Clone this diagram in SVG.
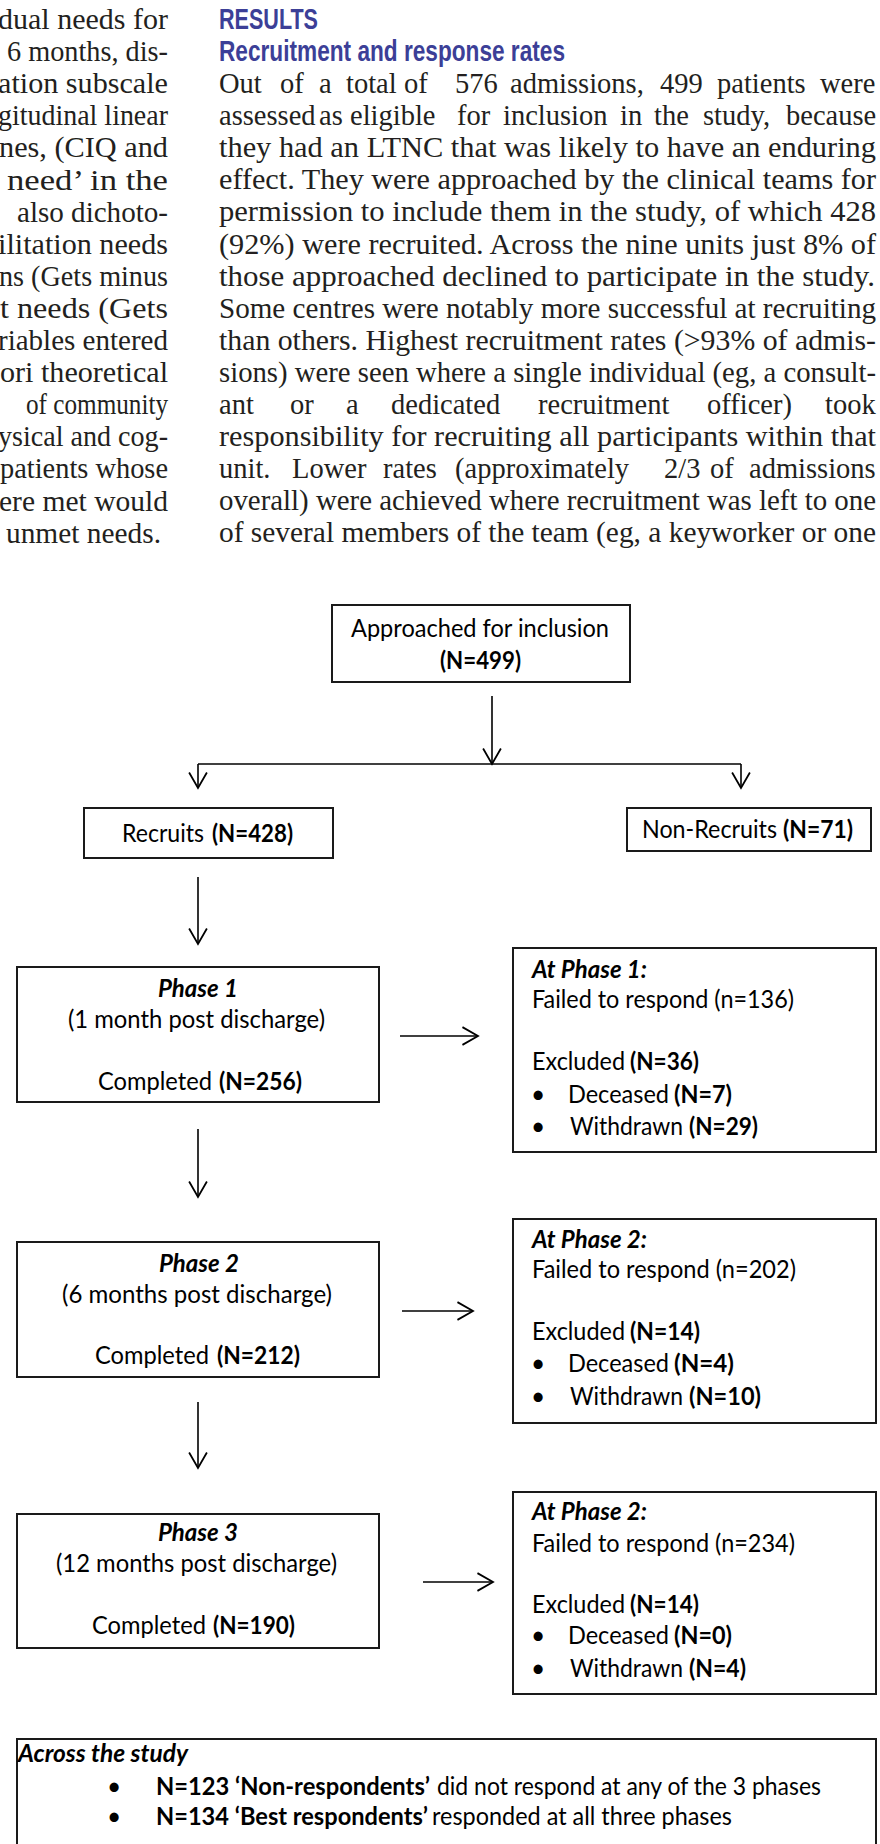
<svg xmlns="http://www.w3.org/2000/svg" width="880" height="1844" viewBox="0 0 880 1844">
<defs>
<style>
.body{font-family:"Liberation Serif","Times New Roman",serif;font-size:28.5px;fill:#231f20}
.head{font-family:"Liberation Sans",Arial,sans-serif;font-weight:bold;font-size:30px;fill:#3c3f97}
.d{font-family:Lato,"Open Sans",sans-serif;font-size:24.5px;fill:#000}
.b{font-weight:bold}
.bi{font-weight:bold;font-style:italic}
.box{fill:#fff;stroke:#1a1a1a;stroke-width:2}
.conn line{stroke:#000;stroke-width:1.6;fill:none}
</style>
<marker id="ah" markerUnits="userSpaceOnUse" markerWidth="20" markerHeight="20" refX="15" refY="9" orient="auto" viewBox="0 0 16 18">
<path d="M1,1 L15,9 L1,17" fill="none" stroke="#000" stroke-width="1.6"/>
</marker>
</defs>
<rect width="880" height="1844" fill="#fff"/>

<g id="left-column" class="body">
<text x="-2" y="29" textLength="170" lengthAdjust="spacingAndGlyphs">dual needs for</text>
<text x="7" y="61.1" textLength="161" lengthAdjust="spacingAndGlyphs">6 months, dis-</text>
<text x="-2" y="93.2" textLength="170" lengthAdjust="spacingAndGlyphs">ation subscale</text>
<text x="-2" y="125.3" textLength="170" lengthAdjust="spacingAndGlyphs">gitudinal linear</text>
<text x="-1" y="157.4" textLength="169" lengthAdjust="spacingAndGlyphs">nes, (CIQ and</text>
<text x="7" y="189.5" textLength="161" lengthAdjust="spacingAndGlyphs">need’ in the</text>
<text x="17" y="221.6" textLength="151" lengthAdjust="spacingAndGlyphs">also dichoto-</text>
<text x="-2" y="253.7" textLength="170" lengthAdjust="spacingAndGlyphs">ilitation needs</text>
<text x="-1" y="285.8" textLength="169" lengthAdjust="spacingAndGlyphs">ns (Gets minus</text>
<text x="0" y="317.9" textLength="168" lengthAdjust="spacingAndGlyphs">t needs (Gets</text>
<text x="-2" y="350" textLength="170" lengthAdjust="spacingAndGlyphs">riables entered</text>
<text x="0" y="382.1" textLength="168" lengthAdjust="spacingAndGlyphs">ori theoretical</text>
<text x="26" y="414.2" textLength="142" lengthAdjust="spacingAndGlyphs">of community</text>
<text x="-2" y="446.3" textLength="170" lengthAdjust="spacingAndGlyphs">ysical and cog-</text>
<text x="0" y="478.4" textLength="168" lengthAdjust="spacingAndGlyphs">patients whose</text>
<text x="-1" y="510.5" textLength="169" lengthAdjust="spacingAndGlyphs">ere met would</text>
<text x="6" y="542.6" textLength="155" lengthAdjust="spacingAndGlyphs">unmet needs.</text>
</g>

<g id="right-column">
<text class="head" x="219" y="29" textLength="99" lengthAdjust="spacingAndGlyphs">RESULTS</text>
<text class="head" x="219" y="61" textLength="346" lengthAdjust="spacingAndGlyphs">Recruitment and response rates</text>
<g class="body">
<text y="93"><tspan x="219">Out</tspan><tspan x="280">of</tspan><tspan x="319">a</tspan><tspan x="346">total</tspan><tspan x="404">of</tspan><tspan x="455">576</tspan><tspan x="510">admissions,</tspan><tspan x="660">499</tspan><tspan x="717">patients</tspan><tspan x="820">were</tspan></text>
<text y="125.1"><tspan x="219">assessed</tspan><tspan x="319">as</tspan><tspan x="350">eligible</tspan><tspan x="457">for</tspan><tspan x="503">inclusion</tspan><tspan x="620">in</tspan><tspan x="654">the</tspan><tspan x="703">study,</tspan><tspan x="786">because</tspan></text>
<text x="219" y="157.2" textLength="657" lengthAdjust="spacingAndGlyphs">they had an LTNC that was likely to have an enduring</text>
<text x="219" y="189.3" textLength="657" lengthAdjust="spacingAndGlyphs">effect. They were approached by the clinical teams for</text>
<text x="219" y="221.4" textLength="657" lengthAdjust="spacingAndGlyphs">permission to include them in the study, of which 428</text>
<text x="219" y="253.5" textLength="657" lengthAdjust="spacingAndGlyphs">(92%) were recruited. Across the nine units just 8% of</text>
<text x="219" y="285.6" textLength="656" lengthAdjust="spacingAndGlyphs">those approached declined to participate in the study.</text>
<text x="219" y="317.7" textLength="657" lengthAdjust="spacingAndGlyphs">Some centres were notably more successful at recruiting</text>
<text x="219" y="349.8" textLength="657" lengthAdjust="spacingAndGlyphs">than others. Highest recruitment rates (&gt;93% of admis-</text>
<text x="219" y="381.9" textLength="657" lengthAdjust="spacingAndGlyphs">sions) were seen where a single individual (eg, a consult-</text>
<text y="414"><tspan x="219">ant</tspan><tspan x="290">or</tspan><tspan x="346">a</tspan><tspan x="391">dedicated</tspan><tspan x="538">recruitment</tspan><tspan x="707">officer)</tspan><tspan x="825">took</tspan></text>
<text x="219" y="446.1" textLength="657" lengthAdjust="spacingAndGlyphs">responsibility for recruiting all participants within that</text>
<text y="478.2"><tspan x="219">unit.</tspan><tspan x="292">Lower</tspan><tspan x="383">rates</tspan><tspan x="455">(approximately</tspan><tspan x="664">2/3</tspan><tspan x="710">of</tspan><tspan x="749">admissions</tspan></text>
<text x="219" y="510.3" textLength="657" lengthAdjust="spacingAndGlyphs">overall) were achieved where recruitment was left to one</text>
<text x="219" y="542.4" textLength="657" lengthAdjust="spacingAndGlyphs">of several members of the team (eg, a keyworker or one</text>
</g>
</g>

<g id="connectors" class="conn">
<line x1="492" y1="696" x2="492" y2="764" marker-end="url(#ah)"/>
<line x1="198" y1="764" x2="741" y2="764"/>
<line x1="198" y1="764" x2="198" y2="788" marker-end="url(#ah)"/>
<line x1="741" y1="764" x2="741" y2="788" marker-end="url(#ah)"/>
<line x1="198" y1="877" x2="198" y2="944" marker-end="url(#ah)"/>
<line x1="198" y1="1129" x2="198" y2="1197" marker-end="url(#ah)"/>
<line x1="198" y1="1402" x2="198" y2="1468" marker-end="url(#ah)"/>
<line x1="400" y1="1036" x2="478" y2="1036" marker-end="url(#ah)"/>
<line x1="402" y1="1311" x2="473" y2="1311" marker-end="url(#ah)"/>
<line x1="423" y1="1582" x2="493" y2="1582" marker-end="url(#ah)"/>
</g>

<g id="approached">
<rect class="box" x="332" y="605" width="298" height="77"/>
<text class="d" x="351" y="637" textLength="258" lengthAdjust="spacingAndGlyphs">Approached for inclusion</text>
<text class="d b" x="440" y="669" textLength="81" lengthAdjust="spacingAndGlyphs">(N=499)</text>
</g>

<g id="recruits">
<rect class="box" x="84" y="808" width="249" height="50"/>
<text class="d" x="122" y="842" textLength="82" lengthAdjust="spacingAndGlyphs">Recruits</text>
<text class="d b" x="212" y="842" textLength="81" lengthAdjust="spacingAndGlyphs">(N=428)</text>
</g>

<g id="non-recruits">
<rect class="box" x="627" y="808" width="244" height="43"/>
<text class="d" x="642" y="838" textLength="135" lengthAdjust="spacingAndGlyphs">Non-Recruits</text>
<text class="d b" x="783" y="838" textLength="70" lengthAdjust="spacingAndGlyphs">(N=71)</text>
</g>

<g id="phase1">
<rect class="box" x="17" y="967" width="362" height="135"/>
<text class="d bi" x="158" y="997" textLength="80" lengthAdjust="spacingAndGlyphs">Phase 1</text>
<text class="d" x="68" y="1028" textLength="257" lengthAdjust="spacingAndGlyphs">(1 month post discharge)</text>
<text class="d" x="98" y="1090" textLength="114" lengthAdjust="spacingAndGlyphs">Completed</text>
<text class="d b" x="219" y="1090" textLength="83" lengthAdjust="spacingAndGlyphs">(N=256)</text>
</g>

<g id="at-phase1">
<rect class="box" x="513" y="948" width="363" height="204"/>
<text class="d bi" x="532" y="978" textLength="115" lengthAdjust="spacingAndGlyphs">At Phase 1:</text>
<text class="d" x="532" y="1008" textLength="262" lengthAdjust="spacingAndGlyphs">Failed to respond (n=136)</text>
<text class="d" x="532" y="1070" textLength="93" lengthAdjust="spacingAndGlyphs">Excluded</text>
<text class="d b" x="630" y="1070" textLength="69" lengthAdjust="spacingAndGlyphs">(N=36)</text>
<text class="d" x="531" y="1103">•</text>
<text class="d" x="568" y="1103" textLength="101" lengthAdjust="spacingAndGlyphs">Deceased</text>
<text class="d b" x="674" y="1103" textLength="58" lengthAdjust="spacingAndGlyphs">(N=7)</text>
<text class="d" x="531" y="1135">•</text>
<text class="d" x="570" y="1135" textLength="113" lengthAdjust="spacingAndGlyphs">Withdrawn</text>
<text class="d b" x="689" y="1135" textLength="69" lengthAdjust="spacingAndGlyphs">(N=29)</text>
</g>

<g id="phase2">
<rect class="box" x="17" y="1242" width="362" height="135"/>
<text class="d bi" x="159" y="1272" textLength="80" lengthAdjust="spacingAndGlyphs">Phase 2</text>
<text class="d" x="62" y="1303" textLength="270" lengthAdjust="spacingAndGlyphs">(6 months post discharge)</text>
<text class="d" x="95" y="1364" textLength="114" lengthAdjust="spacingAndGlyphs">Completed</text>
<text class="d b" x="217" y="1364" textLength="83" lengthAdjust="spacingAndGlyphs">(N=212)</text>
</g>

<g id="at-phase2">
<rect class="box" x="513" y="1219" width="363" height="204"/>
<text class="d bi" x="532" y="1248" textLength="115" lengthAdjust="spacingAndGlyphs">At Phase 2:</text>
<text class="d" x="532" y="1278" textLength="264" lengthAdjust="spacingAndGlyphs">Failed to respond (n=202)</text>
<text class="d" x="532" y="1340" textLength="93" lengthAdjust="spacingAndGlyphs">Excluded</text>
<text class="d b" x="630" y="1340" textLength="70" lengthAdjust="spacingAndGlyphs">(N=14)</text>
<text class="d" x="531" y="1372">•</text>
<text class="d" x="568" y="1372" textLength="101" lengthAdjust="spacingAndGlyphs">Deceased</text>
<text class="d b" x="674" y="1372" textLength="60" lengthAdjust="spacingAndGlyphs">(N=4)</text>
<text class="d" x="531" y="1405">•</text>
<text class="d" x="570" y="1405" textLength="113" lengthAdjust="spacingAndGlyphs">Withdrawn</text>
<text class="d b" x="689" y="1405" textLength="72" lengthAdjust="spacingAndGlyphs">(N=10)</text>
</g>

<g id="phase3">
<rect class="box" x="17" y="1514" width="362" height="134"/>
<text class="d bi" x="158" y="1541" textLength="80" lengthAdjust="spacingAndGlyphs">Phase 3</text>
<text class="d" x="56" y="1572" textLength="281" lengthAdjust="spacingAndGlyphs">(12 months post discharge)</text>
<text class="d" x="92" y="1634" textLength="114" lengthAdjust="spacingAndGlyphs">Completed</text>
<text class="d b" x="213" y="1634" textLength="82" lengthAdjust="spacingAndGlyphs">(N=190)</text>
</g>

<g id="at-phase3">
<rect class="box" x="513" y="1492" width="363" height="202"/>
<text class="d bi" x="532" y="1520" textLength="115" lengthAdjust="spacingAndGlyphs">At Phase 2:</text>
<text class="d" x="532" y="1552" textLength="263" lengthAdjust="spacingAndGlyphs">Failed to respond (n=234)</text>
<text class="d" x="532" y="1613" textLength="93" lengthAdjust="spacingAndGlyphs">Excluded</text>
<text class="d b" x="630" y="1613" textLength="69" lengthAdjust="spacingAndGlyphs">(N=14)</text>
<text class="d" x="531" y="1644">•</text>
<text class="d" x="568" y="1644" textLength="101" lengthAdjust="spacingAndGlyphs">Deceased</text>
<text class="d b" x="674" y="1644" textLength="58" lengthAdjust="spacingAndGlyphs">(N=0)</text>
<text class="d" x="531" y="1677">•</text>
<text class="d" x="570" y="1677" textLength="113" lengthAdjust="spacingAndGlyphs">Withdrawn</text>
<text class="d b" x="689" y="1677" textLength="57" lengthAdjust="spacingAndGlyphs">(N=4)</text>
</g>

<g id="across-study">
<path class="box" d="M17,1860 V1739 H876 V1860"/>
<text class="d bi" x="18" y="1762" textLength="170" lengthAdjust="spacingAndGlyphs">Across the study</text>
<text class="d" x="107" y="1795">•</text>
<text class="d b" x="156" y="1795" textLength="274" lengthAdjust="spacingAndGlyphs">N=123 ‘Non-respondents’</text>
<text class="d" x="437" y="1795" textLength="384" lengthAdjust="spacingAndGlyphs">did not respond at any of the 3 phases</text>
<text class="d" x="107" y="1825">•</text>
<text class="d b" x="156" y="1825" textLength="272" lengthAdjust="spacingAndGlyphs">N=134 ‘Best respondents’</text>
<text class="d" x="432" y="1825" textLength="300" lengthAdjust="spacingAndGlyphs">responded at all three phases</text>
</g>
</svg>
